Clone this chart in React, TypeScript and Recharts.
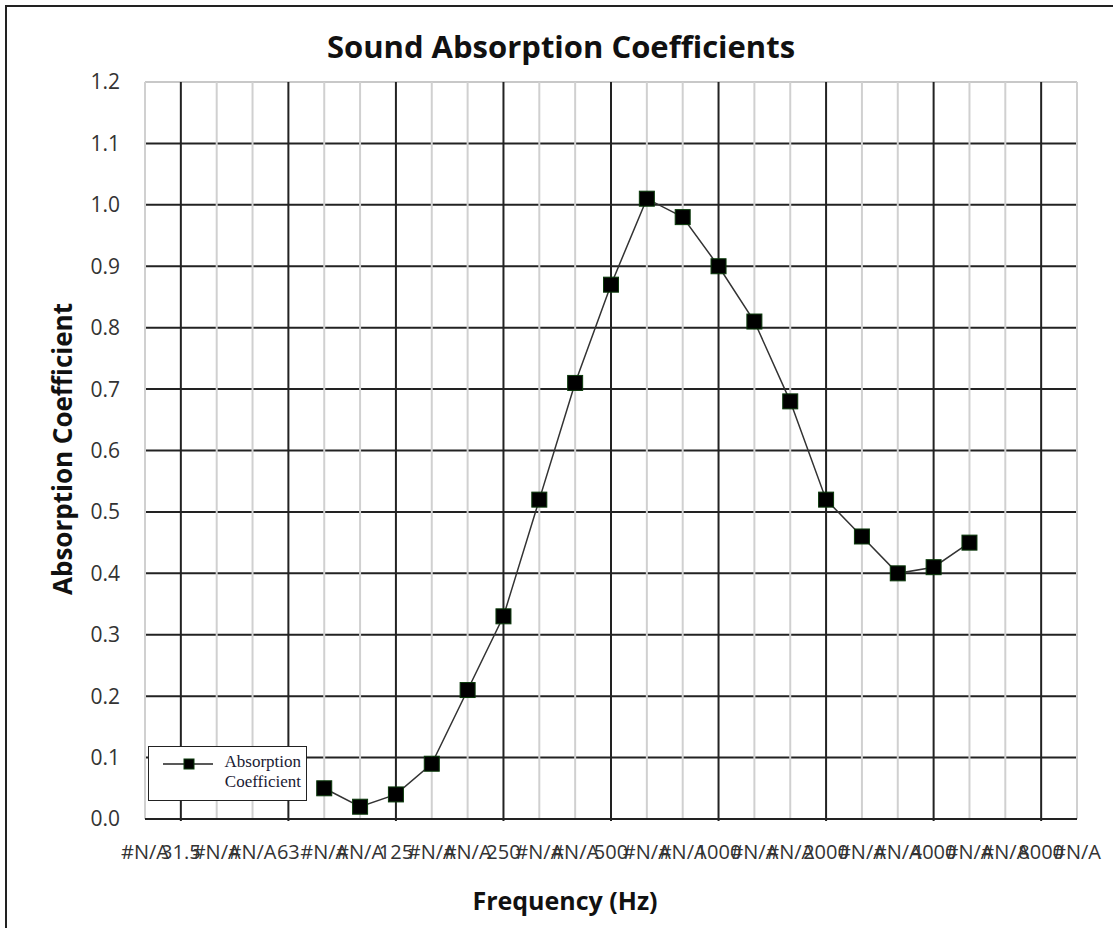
import { LineChart, Line, XAxis, YAxis, CartesianGrid } from 'recharts';

const frequencies = ['25', '31.5', '40', '50', '63', '80', '100', '125', '160', '200', '250', '315', '400', '500', '630', '800', '1000', '1250', '1600', '2000', '2500', '3150', '4000', '5000', '6300', '8000', '10000'];
const tickLabels = ['#N/A', '31.5', '#N/A', '#N/A', '63', '#N/A', '#N/A', '125', '#N/A', '#N/A', '250', '#N/A', '#N/A', '500', '#N/A', '#N/A', '1000', '#N/A', '#N/A', '2000', '#N/A', '#N/A', '4000', '#N/A', '#N/A', '8000', '#N/A'];
const absorption = [null, null, null, null, null, 0.05, 0.02, 0.04, 0.09, 0.21, 0.33, 0.52, 0.71, 0.87, 1.01, 0.98, 0.9, 0.81, 0.68, 0.52, 0.46, 0.4, 0.41, 0.45, null, null, null];
const yTicks = [0, 0.1, 0.2, 0.3, 0.4, 0.5, 0.6, 0.7, 0.8, 0.9, 1.0, 1.1, 1.2];

const data = frequencies.map((freq, i) => ({ freq, value: absorption[i] }));

const font = '"Open Sans", Lato, sans-serif';

function SquareDot(props: any) {
  const { cx, cy, index } = props;
  if (cx == null || cy == null) return <g key={`d-${index}`} />;
  return (
    <rect key={`d-${index}`} x={cx - 7.5} y={cy - 7.5} width={15} height={15} fill="#000" stroke="#0b3a0b" strokeWidth={1} />
  );
}

function VLine(props: any) {
  const { x1, y1, x2, y2, index } = props;
  const major = index % 3 === 1;
  return (
    <line key={`v-${index}`} x1={x1} y1={y1} x2={x2} y2={y2 + (major ? 2 : 0)} stroke={major ? '#222' : '#d0d0d0'} strokeWidth={2} />
  );
}

function HLine(props: any) {
  const { x1, y1, x2, y2, y, index } = props;
  const top = Math.abs(y1 - y) < 1;
  return <line key={`h-${index}`} x1={x1} y1={y1} x2={x2} y2={y2} stroke={top ? '#c8c8c8' : '#222'} strokeWidth={2} />;
}

function LegendBox() {
  return (
    <div
      style={{
        position: 'absolute',
        left: 148,
        top: 746,
        width: 159,
        height: 55,
        border: '1px solid #222',
        background: '#fff',
        boxSizing: 'border-box',
        fontFamily: '"Liberation Serif", serif',
        fontSize: 17,
        color: '#1a1a33',
      }}
    >
      <svg width={60} height={30} style={{ position: 'absolute', left: 12, top: 2 }}>
        <line x1={2} y1={15} x2={52} y2={15} stroke="#222" strokeWidth={1.5} />
        <rect x={23} y={10} width={10} height={10} fill="#000" stroke="#0b3a0b" />
      </svg>
      <div style={{ position: 'absolute', right: 5, top: 5, textAlign: 'right', lineHeight: '20px' }}>
        Absorption
        <br />
        Coefficient
      </div>
    </div>
  );
}

export default function App() {
  return (
    <div style={{ position: 'absolute', left: 0, top: 0, width: 1113, height: 928, overflow: 'hidden', background: '#fff' }}>
      <div style={{ position: 'absolute', left: 5, top: 5, width: 1130, height: 940, border: '2px solid #222', boxSizing: 'border-box' }} />
      <div style={{ position: 'absolute', left: 0, width: 1122, top: 25, textAlign: 'center', fontFamily: font, fontWeight: 700, fontSize: 31, color: '#111' }}>
        Sound Absorption Coefficients
      </div>
      <div style={{ position: 'absolute', left: 0, width: 1130, top: 883, textAlign: 'center', fontFamily: font, fontWeight: 700, fontSize: 25, color: '#111' }}>
        Frequency (Hz)
      </div>
      <div
        style={{
          position: 'absolute',
          left: 62,
          top: 449,
          transform: 'translate(-50%, -50%) rotate(-90deg)',
          whiteSpace: 'nowrap',
          fontFamily: font,
          fontWeight: 700,
          fontSize: 26,
          color: '#111',
        }}
      >
        Absorption Coefficient
      </div>
      <div style={{ position: 'absolute', left: 0, top: 0 }}>
        <LineChart width={1113} height={928} data={data} margin={{ top: 82, right: 36, left: 85, bottom: 69 }}>
          <CartesianGrid vertical={VLine} horizontal={HLine} />
          <XAxis
            dataKey="freq"
            interval={0}
            tickLine={false}
            tickSize={0}
            tickMargin={26}
            height={40}
            axisLine={{ stroke: '#222', strokeWidth: 2 }}
            tickFormatter={(_v: string, i: number) => tickLabels[i]}
            tick={{ fontFamily: font, fontSize: 20, fill: '#333' }}
          />
          <YAxis
            domain={[0, 1.2]}
            ticks={yTicks}
            width={60}
            axisLine={false}
            tickLine={false}
            tickSize={0}
            tickMargin={25}
            tickFormatter={(v: number) => v.toFixed(1)}
            tick={{ fontFamily: font, fontSize: 21, fill: '#333' }}
          />
          <Line
            dataKey="value"
            stroke="#333"
            strokeWidth={1.5}
            dot={<SquareDot />}
            activeDot={false}
            connectNulls={false}
            isAnimationActive={false}
          />
        </LineChart>
      </div>
      <LegendBox />
    </div>
  );
}
